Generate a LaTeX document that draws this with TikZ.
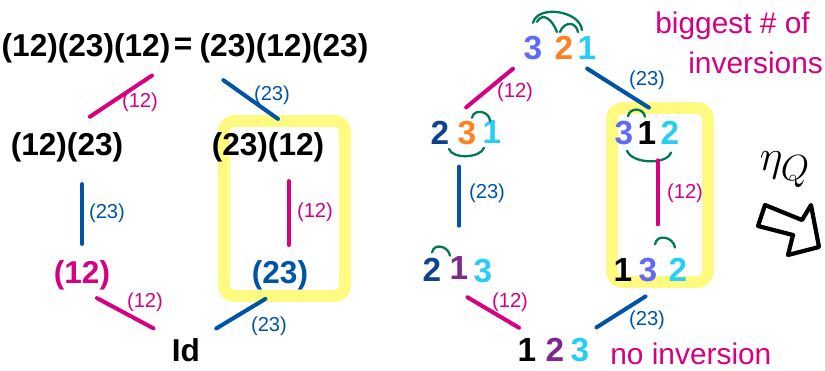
\documentclass[tikz,border=0pt]{standalone}
\usepackage{fontspec}
\setmainfont{Liberation Sans}
\usetikzlibrary{calc}
\definecolor{mg}{RGB}{214,0,128}
\definecolor{bl}{RGB}{0,84,166}
\definecolor{yl}{RGB}{255,250,128}
\definecolor{gr}{RGB}{0,120,85}
\definecolor{vio}{RGB}{95,105,250}
\definecolor{org}{RGB}{255,128,32}
\definecolor{cy}{RGB}{40,205,245}
\definecolor{db}{RGB}{15,65,145}
\definecolor{pu}{RGB}{125,40,140}

\begin{document}
\begin{tikzpicture}[
    x=0.02cm, y=0.02cm,
    word/.style={inner sep=0pt, font=\fontsize{18}{20}\selectfont\bfseries},
    dig/.style={inner sep=0pt, font=\fontsize{19}{20}\selectfont\bfseries},
    lbl/.style={inner sep=0pt, font=\fontsize{11.5}{12}\selectfont},
    note/.style={inner sep=0pt, anchor=west, text=mg, font=\fontsize{17}{20}\selectfont},
    mgl/.style={draw=mg, line width=2.3pt, line cap=round},
    bll/.style={draw=bl, line width=2.3pt, line cap=round},
    inv/.style={draw=gr, line width=1.3pt, line cap=round},
    hl/.style={draw=yl, line width=6.8pt, rounded corners=6pt, line join=round}
]
\path[use as bounding box, clip] (0,0) rectangle (825,-370);

% highlighted squares
\draw[hl] (224,-121) rectangle (345,-296);
\draw[hl] (612,-108) rectangle (708,-282);

% left: words in the generators
\node[word] (lhs) at (86,-48) {(12)(23)(12)};
\node[word] (eq) at (183,-46) {=};
\node[word] (rhs) at (284,-48) {(23)(12)(23)};
\node[word] (a1) at (67,-147) {(12)(23)};
\node[word] (a2) at (268,-147) {(23)(12)};
\node[word, text=mg] (b1) at (82,-275) {(12)};
\node[word, text=bl] (b2) at (280,-275) {(23)};
\node[word] (id) at (186,-350) {Id};
\coordinate (b2t) at ($(b2.north)!.3!(b2.north east)$);

\draw[mgl, shorten <=0.45cm, shorten >=0.55cm] (lhs.south east) -- (a1.north);
\draw[bll, shorten <=0.59cm, shorten >=0.45cm] (rhs.south west) -- ($(a2.north)!.5!(a2.north east)$);
\draw[bll, shorten <=0.44cm, shorten >=0.32cm] (b1.north |- a1.south) -- (b1.north);
\draw[mgl, shorten <=0.38cm, shorten >=0.30cm] (b2t |- a2.south) -- (b2t);
\draw[mgl, shorten <=0.34cm, shorten >=0.41cm] (b1.south) -- (id.north west);
\draw[bll, shorten <=0.34cm, shorten >=0.37cm] (b2.south) -- (id.north east);

\node[lbl, text=mg] (la) at (140,-102) {(12)};
\node[lbl, text=bl] (lb) at (272,-95) {(23)};
\node[lbl, text=bl] (lc) at (107,-213) {(23)};
\node[lbl, text=mg] (ld) at (315,-212) {(12)};
\node[lbl, text=mg] (le) at (145,-302) {(12)};
\node[lbl, text=bl] (lf) at (269,-326) {(23)};

% right: permutations
\node[dig, text=vio] (t3) at (533,-48) {3};
\node[dig, text=org] (t2) at (564,-48) {2};
\node[dig, text=cy]  (t1) at (587,-48) {1};
\node[dig, text=db]  (m2) at (440,-133) {2};
\node[dig, text=org] (m3) at (467,-133) {3};
\node[dig, text=cy]  (m1) at (492,-132) {1};
\node[dig, text=vio] (n3) at (624,-133) {3};
\node[dig]           (n1) at (647,-133) {1};
\node[dig, text=cy]  (n2) at (670,-133) {2};
\node[dig, text=db]  (p2) at (432,-270) {2};
\node[dig, text=pu]  (p1) at (459,-268) {1};
\node[dig, text=cy]  (p3) at (483,-271) {3};
\node[dig]           (q1) at (623,-270) {1};
\node[dig, text=vio] (q3) at (648,-270) {3};
\node[dig, text=cy]  (q2) at (678,-270) {2};
\node[dig]           (r1) at (527,-350) {1};
\node[dig, text=pu]  (r2) at (555,-350) {2};
\node[dig, text=cy]  (r3) at (580,-350) {3};

% inversions
\draw[inv] ($(t3.north)+(0,13)$) to[out=75,in=95] ($(t1.north)+(-5,6)$);
\draw[inv] ($(t3.north)+(4,14)$) to[out=60,in=110,looseness=1.4] ($(t2.north)+(-7,4)$);
\draw[inv] ($(t2.north)+(-4,4)$) to[out=70,in=100,looseness=1.6] ($(t1.north)+(-9,4)$);
\draw[inv] ($(m3.north)+(5,3)$) to[out=80,in=90,looseness=1.4] ($(m1.north)+(-2,-1)$);
\draw[inv] ($(m2.south)+(9,-4)$) to[out=-70,in=-110,looseness=.8] ($(m1.south)+(-8,-4)$);
\draw[inv] ($(n3.north)+(4,4.5)$) to[out=80,in=100,looseness=1.4] ($(n1.north)+(-2,4.5)$);
\draw[inv] ($(n3.south)+(3,-5.5)$) to[out=-70,in=-110,looseness=.8] ($(n2.south)+(1,-7.5)$);
\draw[inv] ($(p2.north)+(0,5.5)$) to[out=80,in=100,looseness=1.4] ($(p1.north)+(-9,0.5)$);
\draw[inv] ($(q3.north)+(7,13.5)$) to[out=80,in=100,looseness=1.4] ($(q2.north)+(-3,10.5)$);

\draw[mgl, shorten <=0.27cm, shorten >=0.43cm] (t3.south west) -- (m2.north east);
\draw[bll, shorten <=0.32cm, shorten >=0.50cm] (t2.south east) -- (n2.north);
\draw[bll, shorten <=0.43cm, shorten >=0.61cm] (p1.north |- m3.south) -- (p1.north);
\draw[mgl, shorten <=0.31cm, shorten >=0.67cm] (q3.north east |- n1.south) -- (q3.north east);
\draw[mgl, shorten <=0.60cm, shorten >=0.41cm] (p2.south east) -- (r1.north east);
\draw[bll, shorten <=0.54cm, shorten >=0.39cm] (q2.south west) -- (r3.north);

\node[lbl, text=mg] (ra) at (515,-92) {(12)};
\node[lbl, text=bl] (rb) at (647,-80) {(23)};
\node[lbl, text=bl] (rc) at (487,-193) {(23)};
\node[lbl, text=mg] (rd) at (685,-193) {(12)};
\node[lbl, text=mg] (re) at (510,-302) {(12)};
\node[lbl, text=bl] (rf) at (647,-320) {(23)};

\node[note] (big) at (655,-26) {biggest \# of};
\node[note] (bigb) at (688,-63) {inversions};
\node[note] (none) at (610,-354) {no inversion};

% the map
\node[inner sep=0pt, font=\fontsize{28}{30}\selectfont] (eta) at (785,-170) {$\eta_Q$};
\draw[line width=2.4pt, line join=round] (765,-205) -- (758,-226) -- (793,-235) -- (788,-255)
    -- (819,-247) -- (811,-205) -- (802,-220) -- cycle;
\end{tikzpicture}
\end{document}
